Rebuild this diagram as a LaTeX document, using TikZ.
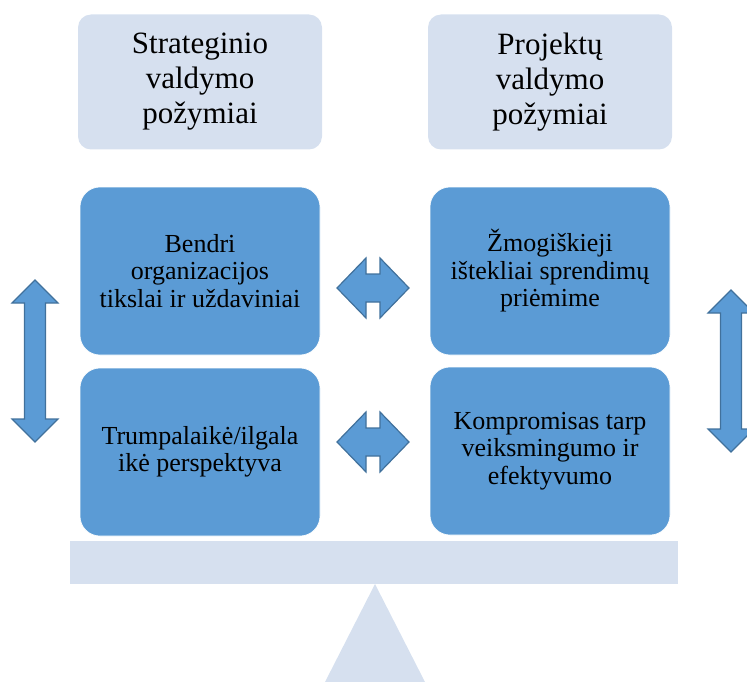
\documentclass[tikz,border=0pt]{standalone}
\usepackage{fontspec}
\setmainfont{Liberation Serif}
\usepackage{tikz}
\usetikzlibrary{positioning}
\definecolor{headbg}{RGB}{214,224,239}
\definecolor{cellblue}{RGB}{91,155,213}
\definecolor{arrowedge}{RGB}{65,113,156}
\tikzset{
  headbox/.style={
    fill=headbg, draw=none, rounded corners=13pt,
    minimum width=244pt, minimum height=135pt, align=center,
    font=\fontsize{31}{35}\selectfont
  },
  cellbox/.style={
    fill=cellblue, draw=white, line width=0.6pt, rounded corners=20pt,
    minimum width=240pt, minimum height=168pt, align=center,
    font=\fontsize{26}{27.5}\selectfont
  },
  blockarrow/.style={
    fill=cellblue, draw=arrowedge, line width=1.2pt, line join=miter
  },
  hdbl/.pic={
    \path[blockarrow] (-36,0) -- (-7,-30) -- (-7,-14) -- (7,-14) -- (7,-30)
      -- (36,0) -- (7,30) -- (7,14) -- (-7,14) -- (-7,30) -- cycle;
  },
  vdbl/.pic={
    \path[blockarrow] (0,-81) -- (23,-58) -- (10.5,-58) -- (10.5,58) -- (23,58)
      -- (0,81) -- (-23,58) -- (-10.5,58) -- (-10.5,-58) -- (-23,-58) -- cycle;
  },
}

\begin{document}
\begin{tikzpicture}[x=1pt, y=-1pt]

  \useasboundingbox (0,0) rectangle (747,682);
  \clip (0,0) rectangle (747,682);

  %% Headings
  \node[headbox] (strat) at (200,82) {Strateginio\\valdymo\\požymiai};
  \node[headbox] (proj) at (550,82) {Projektų\\valdymo\\požymiai};

  %% Cells
  \node[cellbox] (goals) at (200,271) {Bendri\\organizacijos\\tikslai ir uždaviniai};
  \node[cellbox] (human) at (550,271) {Žmogiškieji\\ištekliai sprendimų\\priėmime};
  \node[cellbox] (term) at (200,452) {Trumpalaikė/ilgala\\ikė perspektyva};
  \node[cellbox] (trade) at (550,451) {Kompromisas tarp\\veiksmingumo ir\\efektyvumo};

  %% Arrows
  \pic (harrowtop) at (373,288) {hdbl};
  \pic (harrowbot) at (373,442) {hdbl};
  \pic (varrowleft) at (35,361) {vdbl};
  \pic (varrowright) at (731,371) {vdbl};

  %% Scale
  \fill[headbg] (70,541) rectangle (678,584);
  \fill[headbg] (375,584) -- (425,682) -- (325,682) -- cycle;

\end{tikzpicture}
\end{document}
